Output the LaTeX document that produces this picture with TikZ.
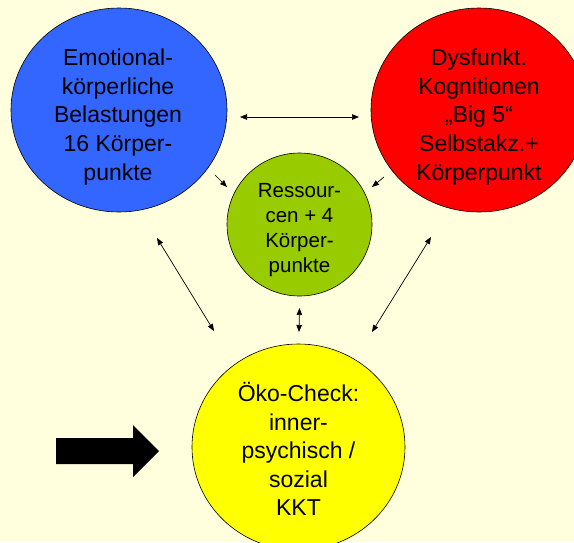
\documentclass[tikz,border=0pt]{standalone}
\usepackage{fontspec}
\setmainfont{Liberation Sans}
\usetikzlibrary{shapes.geometric,arrows.meta,calc}
\definecolor{bgcream}{HTML}{FFFFDD}
\definecolor{emoblue}{HTML}{3366FF}
\definecolor{dysred}{HTML}{FF0000}
\definecolor{resgreen}{HTML}{99CC00}
\definecolor{okoyellow}{HTML}{FFFF00}
\tikzset{
  bubble/.style={ellipse, draw=black, line width=0.6pt, inner sep=0pt},
  bigtext/.style={align=center, inner sep=0pt, font=\fontsize{23}{28.6}\selectfont},
  smalltext/.style={align=center, inner sep=0pt, font=\fontsize{20.5}{25}\selectfont},
  link/.style={line width=0.7pt, -{Triangle[length=7pt,width=5.5pt]}},
  duallink/.style={line width=0.7pt, {Triangle[length=7pt,width=5.5pt]}-{Triangle[length=7pt,width=5.5pt]}},
}
\begin{document}
\begin{tikzpicture}[x=1pt,y=-1pt]
  \useasboundingbox (0,0) rectangle (574,542);
  \fill[bgcream] (0,0) rectangle (574,542);
  \clip (0,0) rectangle (574,542);

  % the four circles
  \node[bubble, fill=emoblue, minimum width=216pt, minimum height=204pt] (blue) at (119,110) {};
  \node[bubble, fill=dysred, minimum width=216pt, minimum height=204pt] (red) at (479,110) {};
  \node[bubble, fill=resgreen, minimum width=145pt, minimum height=143pt] (green) at (299.5,224.5) {};
  \node[bubble, fill=okoyellow, minimum width=213pt, minimum height=206pt] (yellow) at (298.5,447) {};

  % their texts
  \node[bigtext] (bluetext) at ($(blue)+(-1,7)$) {Emotional-\\körperliche\\Belastungen\\16 Körper-\\punkte};
  \node[bigtext] (redtext) at ($(red)+(0,7)$) {Dysfunkt.\\Kognitionen\\„Big 5“\\Selbstakz.+\\Körperpunkt};
  \node[smalltext] (greentext) at ($(green)+(0,5.5)$) {Ressour-\\cen + 4\\Körper-\\punkte};
  \node[bigtext] (yellowtext) at ($(yellow)+(0,2)$) {Öko-Check:\\inner-\\psychisch /\\sozial\\KKT};

  % arrow ends around the circles
  \coordinate (bl-r) at ($(blue)+(121,7)$);
  \coordinate (rd-l) at ($(red)+(-120,7)$);
  \coordinate (bl-g) at ($(blue)+(96,65)$);
  \coordinate (g-bl) at ($(green)+(-72.5,-37.5)$);
  \coordinate (rd-g) at ($(red)+(-95,67)$);
  \coordinate (g-rd) at ($(green)+(72.5,-37.5)$);
  \coordinate (bl-y) at ($(blue)+(38,128)$);
  \coordinate (y-bl) at ($(yellow)+(-84.5,-116)$);
  \coordinate (rd-y) at ($(red)+(-48,127)$);
  \coordinate (y-rd) at ($(yellow)+(73.5,-115)$);
  \coordinate (g-y) at ($(green)+(0,83.5)$);
  \coordinate (y-g) at ($(yellow)+(0.5,-115)$);

  % connectors
  \draw[duallink] (bl-r) -- (rd-l);
  \draw[link] (bl-g) -- (g-bl);
  \draw[link] (rd-g) -- (g-rd);
  \draw[duallink] (bl-y) -- (y-bl);
  \draw[duallink] (rd-y) -- (y-rd);
  \draw[duallink] (g-y) -- (y-g);

  % big arrow pointing at the check circle
  \fill[black] (56,438) -- (133,438) -- (133,425) -- (159,451) -- (133,477) -- (133,464) -- (56,464) -- cycle;
\end{tikzpicture}
\end{document}
